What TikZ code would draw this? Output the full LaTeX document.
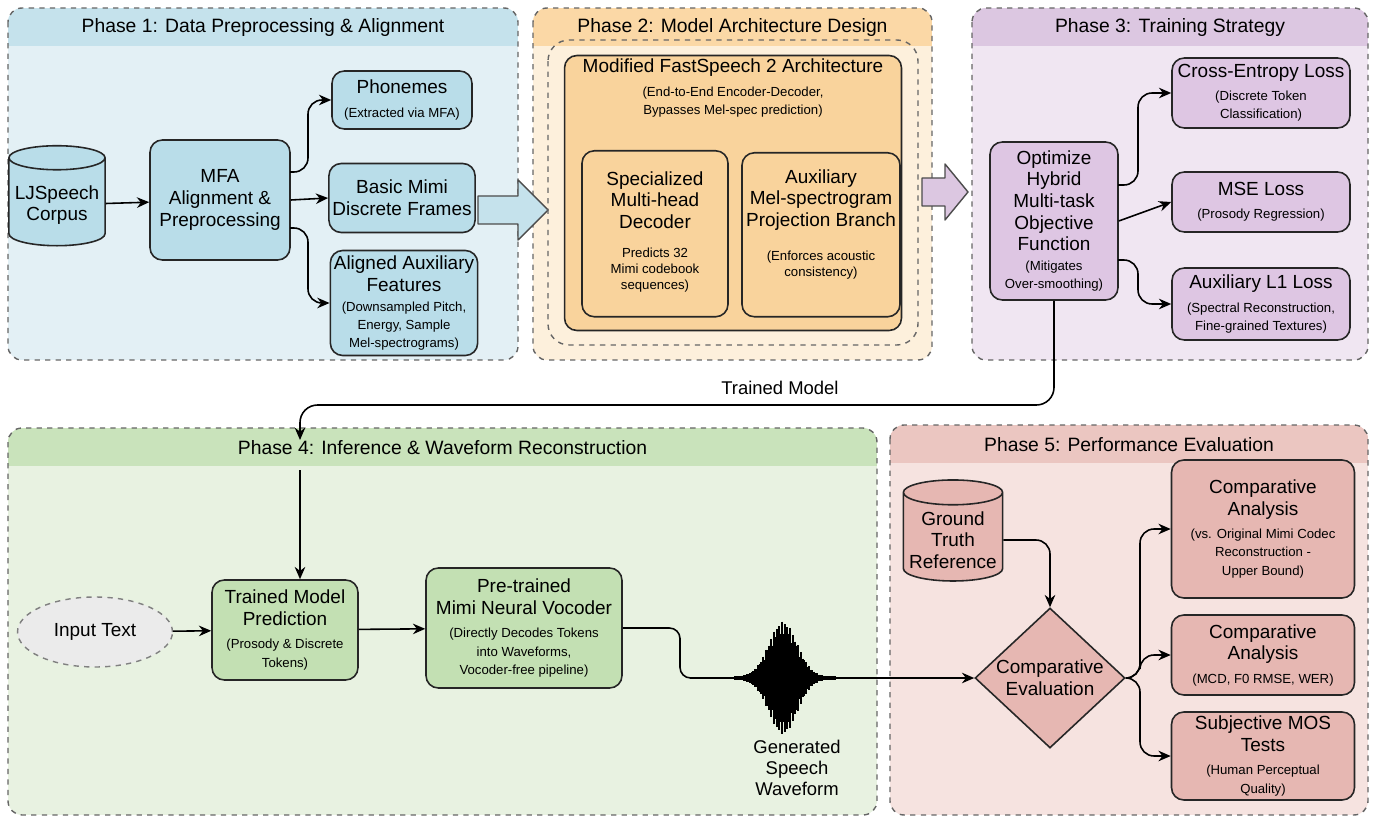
\documentclass[tikz,border=0pt]{standalone}
\usepackage{fontspec}
\setmainfont{Liberation Sans}
\usetikzlibrary{shapes.geometric,shapes.arrows,arrows.meta,calc}
\definecolor{bgA}{HTML}{E3F0F5}\definecolor{hdA}{HTML}{C5E2EC}\definecolor{ndA}{HTML}{B9DDE9}
\definecolor{bgB}{HTML}{FDF0DC}\definecolor{hdB}{HTML}{FBD8A6}\definecolor{ndB}{HTML}{F9D39C}
\definecolor{bgC}{HTML}{F0E6F2}\definecolor{hdC}{HTML}{DCC7E1}\definecolor{ndC}{HTML}{DEC6E3}
\definecolor{bgD}{HTML}{E8F2E1}\definecolor{hdD}{HTML}{C9E3BB}\definecolor{ndD}{HTML}{C3E0B3}
\definecolor{bgE}{HTML}{F6E3E0}\definecolor{hdE}{HTML}{EBC6C1}\definecolor{ndE}{HTML}{E6B7B2}
\newcommand{\smf}{\fontsize{7.5}{9}\selectfont}
\tikzset{
 box/.style={draw=black!85,line width=0.9pt,rounded corners=7pt,align=center,font=\fontsize{10.8}{12.3}\selectfont,inner sep=2pt},
 sm/.style={font=\smf},
 arr/.style={-{Stealth[length=7pt,width=6pt]},line width=0.9pt,rounded corners=8pt},
 cyl/.style={cylinder,shape border rotate=90,aspect=0.25,draw=black!85,line width=0.9pt,align=center,font=\fontsize{10.8}{12.3}\selectfont},
 fat/.style={draw=black!70,line width=0.8pt,line join=round},
 ttl/.style={font=\fontsize{11}{13}\selectfont}
}
\newcommand{\phasebox}[8]{% x1 y1 x2 y2 bg hd name title
 \begin{scope}\clip[rounded corners=8pt] (#1,#2) rectangle (#3,#4);
 \fill[#5] (#1,#2) rectangle (#3,#4); \fill[#6] (#1,#2) rectangle (#3,#2+38);\end{scope}
 \draw[dashed,black!60,line width=0.8pt,rounded corners=8pt] (#1,#2) rectangle (#3,#4);
 \node[ttl] (#7) at ({(#1+#3)/2},#2+20) {#8};}
\begin{document}
\begin{tikzpicture}[x=0.02cm,y=-0.02cm]
\useasboundingbox (0,0) rectangle (1379,824);
\phasebox{8}{8}{518}{360}{bgA}{hdA}{p1}{Phase 1: Data Preprocessing \& Alignment}
\phasebox{533}{8}{932}{360}{bgB}{hdB}{p2}{Phase 2: Model Architecture Design}
\phasebox{972}{8}{1368}{360}{bgC}{hdC}{p3}{Phase 3: Training Strategy}
\phasebox{8}{428}{877}{815}{bgD}{hdD}{p4}{Phase 4: Inference \& Waveform Reconstruction}
\phasebox{890}{425}{1368}{815}{bgE}{hdE}{p5}{Phase 5: Performance Evaluation}
% Phase 1
\node[cyl,fill=ndA,minimum width=1.45cm,minimum height=2.0cm] (lj) at (57,205) {LJSpeech\\Corpus};
\node[box,fill=ndA,minimum width=2.8cm,minimum height=2.4cm] (mfa) at (220,200) {MFA\\Alignment \&\\Preprocessing};
\node[box,fill=ndA,minimum width=2.8cm,minimum height=1.16cm] (ph) at (402,100) {Phonemes\\[1pt]{\smf (Extracted via MFA)}};
\node[box,fill=ndA,minimum width=2.8cm,minimum height=1.38cm] (bm) at (402,198) {Basic Mimi\\Discrete Frames};
\node[box,fill=ndA,minimum width=2.84cm,minimum height=2.1cm] (au) at (404,303) {Aligned Auxiliary\\Features\\[-1pt]{\smf (Downsampled Pitch,}\\[-2pt]{\smf Energy, Sample}\\[-2pt]{\smf Mel-spectrograms)}};
\draw[arr] (lj) -- (mfa);
\draw[arr] (mfa.east) -- (bm.west);
\coordinate (m1) at (290,172); \coordinate (m2) at (290,228);
\draw[arr] (m1) -- (308,172) |- (ph.west);
\draw[arr] (m2) -- (308,228) |- (au.west);
\draw[fat,fill=hdA] (478,196) -- (518,196) -- (518,180) -- (548,210) -- (518,240) -- (518,224) -- (478,224) -- cycle;
% Phase 2
\draw[dashed,black!60,line width=0.8pt,rounded corners=12pt] (548,40) rectangle (918,345);
\node[box,fill=ndB,minimum width=6.74cm,minimum height=5.5cm] (mod) at (733,193) {};
\node[font=\fontsize{10.8}{12.3}\selectfont,align=center] (modt) at (733,88) {Modified FastSpeech 2 Architecture\\[1pt]{\smf (End-to-End Encoder-Decoder,}\\[-2pt]{\smf Bypasses Mel-spec prediction)}};
\node[box,fill=ndB,minimum width=2.92cm,minimum height=3.32cm,anchor=north] (sp) at (655,150) {};
\node[align=center,font=\fontsize{10.8}{12.3}\selectfont] (spt) at (655,200) {Specialized\\Multi-head\\Decoder};
\node[sm,align=center] (sps) at (655,270) {Predicts 32\\Mimi codebook\\sequences)};
\node[box,fill=ndB,minimum width=3.16cm,minimum height=3.28cm,anchor=north] (ax) at (821,152) {};
\node[align=center,font=\fontsize{10.8}{12.3}\selectfont] (axt) at (821,200) {Auxiliary\\Mel-spectrogram\\Projection Branch};
\node[sm,align=center] (axs) at (821,265) {(Enforces acoustic\\consistency)};
\draw[fat,fill=hdC] (922,178) -- (945,178) -- (945,164) -- (968,192) -- (945,220) -- (945,206) -- (922,206) -- cycle;
% Phase 3
\node[box,fill=ndC,minimum width=2.56cm,minimum height=3.16cm] (opt) at (1054,221) {Optimize\\Hybrid\\Multi-task\\Objective\\Function\\[-1pt]{\smf (Mitigates}\\[-2pt]{\smf Over-smoothing)}};
\node[box,fill=ndC,minimum width=3.56cm,minimum height=1.4cm] (ce) at (1261,93) {Cross-Entropy Loss\\[1pt]{\smf (Discrete Token}\\[-2pt]{\smf Classification)}};
\node[box,fill=ndC,minimum width=3.56cm,minimum height=1.2cm] (mse) at (1261,202) {MSE Loss\\[1pt]{\smf (Prosody Regression)}};
\node[box,fill=ndC,minimum width=3.56cm,minimum height=1.44cm] (l1) at (1261,304) {Auxiliary L1 Loss\\[1pt]{\smf (Spectral Reconstruction,}\\[-2pt]{\smf Fine-grained Textures)}};
\draw[arr] (opt.east) -- (mse.west);
\coordinate (o1) at (1118,185); \coordinate (o2) at (1118,260);
\draw[arr] (o1) -- (1138,185) |- (ce.west);
\draw[arr] (o2) -- (1138,260) |- (l1.west);
% Phase 4
\node[ellipse,draw=black!50,dashed,fill=black!8,line width=0.8pt,minimum width=3.1cm,minimum height=1.4cm,font=\fontsize{10.8}{12.3}\selectfont] (in) at (95,632) {Input Text};
\node[box,fill=ndD,minimum width=2.92cm,minimum height=2.0cm] (pr) at (285,630) {Trained Model\\Prediction\\[1pt]{\smf (Prosody \& Discrete}\\[-2pt]{\smf Tokens)}};
\node[box,fill=ndD,minimum width=3.92cm,minimum height=2.4cm] (vo) at (524,628) {Pre-trained\\Mimi Neural Vocoder\\[1pt]{\smf (Directly Decodes Tokens}\\[-2pt]{\smf into Waveforms,}\\[-2pt]{\smf Vocoder-free pipeline)}};
\coordinate (tA) at (300,440);
\draw[arr,rounded corners=10pt] (opt.south) -- (1054,405) -- (300,405) -- (tA);
\node[font=\fontsize{10.5}{12}\selectfont] (tm) at (780,388) {Trained Model};
\coordinate (tB) at (300,470);
\draw[arr] (tB) -- (pr.north -| tB);
\draw[arr] (in) -- (pr);
\draw[arr] (pr) -- (vo);
\foreach \i in {0,...,100}{
 \pgfmathsetmacro{\a}{1.5+55*exp(-((\i-48)/20)^2)*(0.3+0.7*abs(sin(\i*67)))}
 \draw[line width=1.1pt] (735+\i,678-\a) -- (735+\i,678+\a);}
\coordinate (wl) at (735,678); \coordinate (wr) at (835,678);
\draw[line width=0.9pt,rounded corners=6pt] (vo.east) -- (680,628) -- (680,678) -- (wl);
\node[align=center,font=\fontsize{10.5}{12}\selectfont] (gw) at (797,768) {Generated\\Speech\\Waveform};
% Phase 5
\node[cyl,fill=ndE,minimum width=1.9cm,minimum height=2.0cm] (gt) at (953,540) {Ground\\Truth\\Reference};
\node[diamond,draw=black!85,line width=0.9pt,fill=ndE,aspect=1.1,minimum width=3.0cm,minimum height=2.8cm,align=center,inner sep=0pt,font=\fontsize{10.8}{12.3}\selectfont] (ce2) at (1050,678) {Comparative\\Evaluation};
\draw[arr] (wr) -- (ce2.west);
\draw[arr] (gt.east) -- (1050,540) -- (ce2.north);
\node[box,fill=ndE,minimum width=3.66cm,minimum height=2.76cm] (ca1) at (1263,529) {Comparative\\Analysis\\[1pt]{\smf (vs. Original Mimi Codec}\\[-2pt]{\smf Reconstruction -}\\[-2pt]{\smf Upper Bound)}};
\node[box,fill=ndE,minimum width=3.66cm,minimum height=1.6cm] (ca2) at (1263,655) {Comparative\\Analysis\\[1pt]{\smf (MCD, F0 RMSE, WER)}};
\node[box,fill=ndE,minimum width=3.66cm,minimum height=1.76cm] (mos) at (1263,756) {Subjective MOS\\Tests\\[1pt]{\smf (Human Perceptual}\\[-2pt]{\smf Quality)}};
\draw[arr] (ce2.east) -- (1140,678) |- (ca1.west);
\draw[arr] (ce2.east) -- (1140,678) |- (ca2.west);
\draw[arr] (ce2.east) -- (1140,678) |- (mos.west);
\end{tikzpicture}
\end{document}
